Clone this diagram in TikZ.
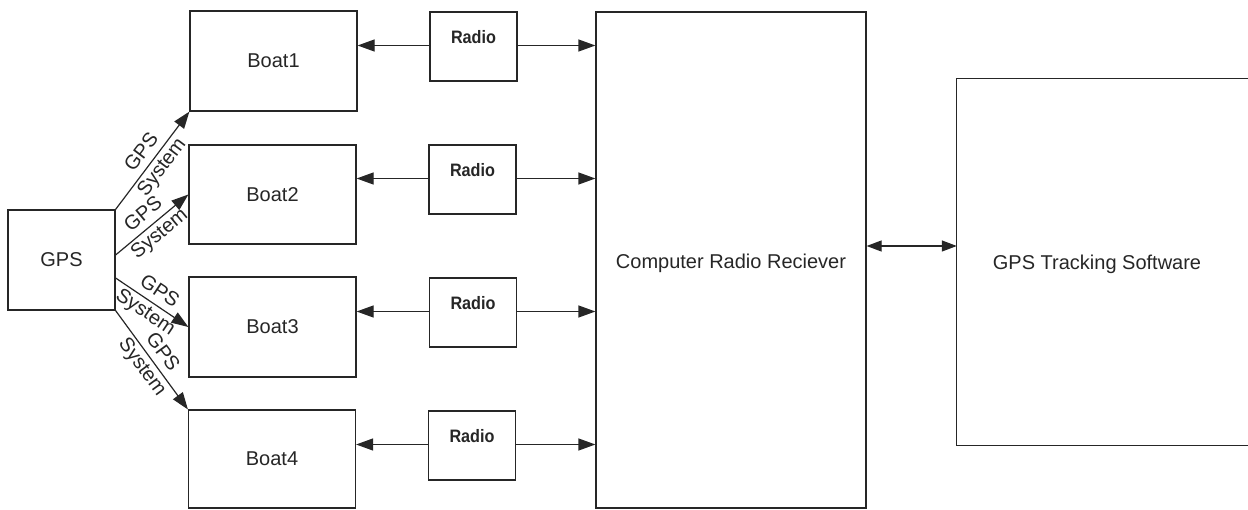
\documentclass[tikz,border=0pt]{standalone}
\usepackage{fontspec}
\setmainfont{Liberation Sans}
\usetikzlibrary{arrows.meta,calc}
\begin{document}
\begin{tikzpicture}[x=1pt,y=-1pt,
  every node/.style={font=\fontsize{20}{25}\selectfont, text=black!85},
  box/.style={draw=black!85, line width=1.2pt, inner sep=0pt},
  radiobox/.style={box, minimum width=87pt, minimum height=69pt, text height=13pt, text depth=19pt,
     font=\fontsize{18}{22}\selectfont\bfseries},
  boatbox/.style={box, minimum width=167pt, minimum height=100pt},
  conn/.style={draw=black!85, line width=1.2pt, -{Triangle[length=17pt,width=12pt]}},
  biconn/.style={draw=black!85, line width=1.2pt, {Triangle[length=15pt,width=11pt]}-{Triangle[length=15pt,width=11pt]}},
  lbl/.style={sloped, midway, align=center, inner sep=0pt}
]
\useasboundingbox (0,0) rectangle (1248,510);

\node[box, minimum width=107pt, minimum height=100pt] (gps) at (61.5,260) {GPS};

\node[boatbox] (boat1) at (273.5,61) {Boat1};
\node[boatbox, minimum height=99pt] (boat2) at (272.5,194.5) {Boat2};
\node[boatbox] (boat3) at (272.5,327) {Boat3};
\node[boatbox, minimum height=98pt] (boat4) at (272,459) {Boat4};

\node[radiobox] (radio1) at (473.5,46.5) {\scalebox{0.9}[1]{Radio}};
\node[radiobox] (radio2) at (472.5,179.5) {\scalebox{0.9}[1]{Radio}};
\node[radiobox] (radio3) at (473,312.5) {\scalebox{0.9}[1]{Radio}};
\node[radiobox] (radio4) at (472,445.5) {\scalebox{0.9}[1]{Radio}};

\node[box, minimum width=270pt, minimum height=496pt, text height=22pt, text depth=4pt] (comp) at (731,260) {Computer Radio Reciever};

\node[inner sep=0pt, minimum width=280pt, minimum height=366pt, text height=20pt, text depth=4pt] (track) at (1097,262) {GPS Tracking Software};
\coordinate (redge) at (1248,0);
\draw[draw=black!85, line width=1.2pt] (track.north west -| redge) -- (track.north west) -- (track.south west) -- (track.south west -| redge);

% GPS to boats
\draw[conn] (gps.north east) -- (boat1.south west) node[lbl] {GPS\\System};
\draw[conn] ($(gps.east)+(0,-5)$) -- (boat2.west) node[lbl] {GPS\\System};
\draw[conn] ($(gps.east)+(0,18)$) -- (boat3.west) node[lbl] {GPS\\System};
\draw[conn] (gps.south east) -- (boat4.north west) node[lbl] {GPS\\System};

% radios
\foreach \i in {1,2,3,4} {
  \draw[conn] ($(radio\i.west)+(0,-1)$) -- ($(boat\i.east |- radio\i.west)+(0,-1)$);
  \draw[conn] ($(radio\i.east)+(0,-1)$) -- ($(comp.west |- radio\i.east)+(0,-1)$);
}

\draw[biconn] ($(comp.east)+(0,-14)$) -- ($(track.west |- comp.east)+(0,-14)$);
\end{tikzpicture}
\end{document}
